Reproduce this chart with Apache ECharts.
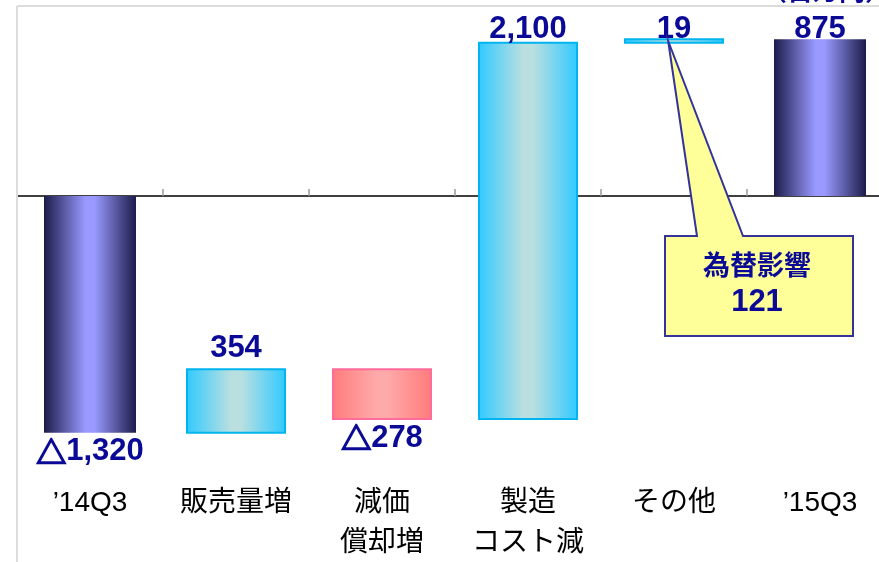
<!DOCTYPE html>
<html>
<head>
<meta charset="utf-8">
<script src="https://cdn.jsdelivr.net/npm/echarts@6/dist/echarts.min.js"></script>
<style>
  html, body { margin: 0; padding: 0; background: #fff; }
  #chart { width: 879px; height: 562px; }
</style>
</head>
<body>
<div id="chart"></div>
<script>
// 営業利益の増減要因（'14Q3 → '15Q3）
const categories = ['’14Q3', '販売量増', '減価\n償却増', '製造\nコスト減', 'その他', '’15Q3'];
const values = [-1320, 354, -278, 2100, 19, 875];
const kinds = ['total', 'up', 'down', 'up', 'up', 'total'];
const fxImpact = 121;
const fxLabel = '為替影響';
const unitLabel = '（百万円）';

const LATIN = "'Liberation Sans', 'Noto Sans CJK JP', sans-serif";
const CJK = "'Noto Sans CJK JP', sans-serif";
const NAVY = '#0a0a96';

function fmtRich(v) {
  const num = Math.abs(v).toLocaleString('en-US');
  return v < 0 ? '{tri|△}' + num : num;
}

// running totals: totals start at zero, steps start where the previous bar ended
const spans = [];
let level = 0;
values.forEach((v, i) => {
  const start = kinds[i] === 'total' ? 0 : level;
  const end = start + v;
  spans.push([i, start, end]);
  level = end;
});

const fills = {
  total: { stops: ['#1c1c4a', '#9999ff', '#9999ff', '#1c1c4a'], stroke: null },
  up:    { stops: ['#2fcaff', '#badfe0', '#badfe0', '#2fcaff'], stroke: '#00b4f0' },
  down:  { stops: ['#ff7b7b', '#ffaaaa', '#ffaaaa', '#ff7b7b'], stroke: '#ff6b9a' }
};

function gradient(stops) {
  return {
    type: 'linear', x: 0, y: 0, x2: 1, y2: 0, global: false,
    colorStops: [
      { offset: 0, color: stops[0] },
      { offset: 0.45, color: stops[1] },
      { offset: 0.55, color: stops[2] },
      { offset: 1, color: stops[3] }
    ]
  };
}

function renderItem(params, api) {
  const i = api.value(0);
  const lo = api.value(1);
  const hi = api.value(2);
  const kind = kinds[i];
  const a = api.coord([i, lo]);
  const b = api.coord([i, hi]);
  const band = api.size([1, 0])[0];
  const w = band * (kind === 'total' ? 0.63 : 0.671);
  const top = Math.min(a[1], b[1]);
  const bottom = Math.max(a[1], b[1]);
  const cx = a[0];
  const f = fills[kind];
  const v = values[i];
  const labelY = v >= 0 ? Math.max(top - 21, 29) : bottom + 19;
  return {
    type: 'group',
    children: [
      {
        type: 'rect',
        shape: { x: cx - w / 2, y: top, width: w, height: Math.max(bottom - top, 1) },
        style: {
          fill: gradient(f.stops),
          stroke: f.stroke || null,
          lineWidth: f.stroke ? 2 : 0
        }
      },
      {
        type: 'text',
        style: {
          text: fmtRich(v),
          x: cx,
          y: labelY,
          align: 'center',
          verticalAlign: 'middle',
          fontSize: 31,
          fontWeight: 'bold',
          fontFamily: LATIN,
          fill: NAVY,
          rich: {
            tri: { fontSize: 30, fontWeight: 'bold', fontFamily: CJK, fill: NAVY, stroke: NAVY, lineWidth: 1.6 }
          }
        }
      }
    ]
  };
}

const chart = echarts.init(document.getElementById('chart'), null, { renderer: 'canvas' });

chart.setOption({
  animation: false,
  backgroundColor: '#ffffff',
  grid: { left: 17, right: -14, top: 7.9, height: 546.6, outerBoundsMode: 'none', containLabel: false },
  xAxis: [
    {
      // zero line with boundary ticks
      type: 'category',
      data: categories,
      boundaryGap: true,
      axisLine: { show: true, onZero: true, lineStyle: { color: '#000', width: 1.5 } },
      axisTick: { show: true, inside: true, length: 7, lineStyle: { color: '#9a9a9a', width: 1.5 } },
      axisLabel: { show: false },
      splitLine: { show: false }
    },
    {
      // category names set low beneath the bars
      type: 'category',
      data: categories,
      position: 'bottom',
      offset: -84.5,
      boundaryGap: true,
      axisLine: { show: false, onZero: false },
      axisTick: { show: false },
      axisLabel: {
        show: true,
        margin: 13,
        interval: 0,
        hideOverlap: false,
        fontSize: 28,
        lineHeight: 40,
        color: '#000',
        fontFamily: LATIN
      },
      splitLine: { show: false }
    }
  ],
  yAxis: {
    type: 'value',
    min: -2000,
    max: 1050,
    show: false,
    splitLine: { show: false }
  },
  series: [{
    type: 'custom',
    renderItem: renderItem,
    clip: false,
    z: 3,
    xAxisIndex: 0,
    data: spans
  }]
});

// frame lines, unit caption and the FX callout pointing at the その他 bar
const otherIdx = categories.indexOf('その他');
const mid = (spans[otherIdx][1] + spans[otherIdx][2]) / 2;
const tip = chart.convertToPixel({ xAxisIndex: 0, yAxisIndex: 0 }, [otherIdx, mid]);
const bandPx = 146;
const tipX = tip[0] - bandPx * 0.04;

const box = { x: 665, y: 236, w: 188, h: 100 };

chart.setOption({
  graphic: [
    { type: 'line', z: 1, shape: { x1: 17, y1: 6, x2: 879, y2: 6 }, style: { stroke: '#dcdcdc', lineWidth: 2 } },
    { type: 'line', z: 1, shape: { x1: 17, y1: 6, x2: 17, y2: 562 }, style: { stroke: '#dcdcdc', lineWidth: 2 } },
    {
      type: 'text', z: 10,
      style: {
        text: unitLabel, x: 826, y: 3, align: 'center', verticalAlign: 'bottom',
        fontSize: 26, fontWeight: 'bold', fontFamily: CJK, fill: NAVY
      }
    },
    {
      type: 'polygon', z: 20,
      shape: {
        points: [
          [box.x, box.y], [box.x + 32, box.y], [tipX, tip[1]], [box.x + 78, box.y],
          [box.x + box.w, box.y], [box.x + box.w, box.y + box.h], [box.x, box.y + box.h]
        ]
      },
      style: { fill: '#ffff99', stroke: '#33339a', lineWidth: 2, lineJoin: 'miter' }
    },
    {
      type: 'text', z: 21,
      style: {
        text: fxLabel, x: box.x + box.w / 2 - 2, y: box.y + 29, align: 'center', verticalAlign: 'middle',
        fontSize: 27, fontWeight: 'bold', fontFamily: CJK, fill: NAVY
      }
    },
    {
      type: 'text', z: 21,
      style: {
        text: String(fxImpact), x: box.x + box.w / 2 - 2, y: box.y + 66, align: 'center', verticalAlign: 'middle',
        fontSize: 31, fontWeight: 'bold', fontFamily: LATIN, fill: NAVY
      }
    }
  ]
});
</script>
</body>
</html>
